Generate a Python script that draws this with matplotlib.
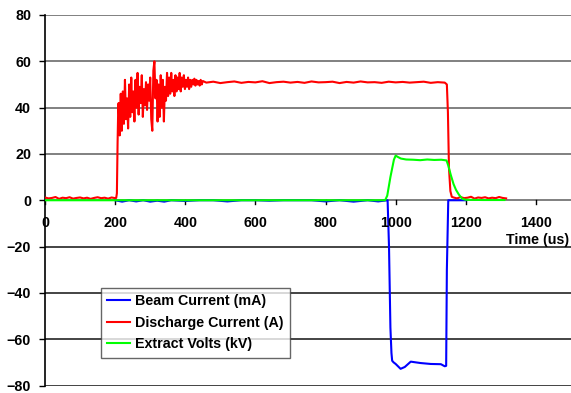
import numpy as np
import matplotlib
matplotlib.use("Agg")
import matplotlib.pyplot as plt

plt.rcParams['font.family'] = ['Liberation Sans', 'DejaVu Sans']
plt.rcParams['font.weight'] = 'bold'

# ---- data ----
# Discharge current (A)
dis_base = [1.2, 0.8, 1.0, 1.4, 0.6, 1.1, 0.9, 1.3, 0.7, 1.0, 1.2,
            0.8, 1.1, 0.6, 1.0, 1.3, 0.9, 1.1, 0.7, 1.2, 0.9]           # t = 0..200 step 10
dis_rise_t = [203, 205, 207, 209]
dis_rise = [1.0, 3.0, 25.0, 41.0]
dis_osc = [42, 28, 46, 30, 47, 33, 52, 35, 44, 31, 50, 36, 53, 38, 47, 34,
           52, 40, 55, 37, 49, 42, 54, 36, 48, 41, 51, 39, 50, 43, 53, 35,
           30, 56, 60, 44, 52, 34, 50, 36, 54, 40, 52, 34, 49, 43, 55, 45,
           53, 46, 55, 47, 52, 45, 54, 47, 53, 48, 55, 47, 53, 49, 54, 48,
           52, 49, 53, 48, 52, 49, 52, 50, 52.5, 49.5, 52, 50, 51.5, 49.5,
           52, 50, 51.5]                                                   # t = 210.. step 3
dis_flat = [50.8, 51.2, 50.6, 51.0, 51.3, 50.7, 51.1, 50.9, 51.4, 50.6,
            51.0, 51.2, 50.8, 51.1, 50.7, 51.3, 50.9, 51.0, 51.2, 50.6,
            51.1, 50.8, 51.3, 50.9, 51.0, 50.7, 51.2, 50.9, 51.1, 50.8,
            51.0, 51.2, 50.7, 51.0, 50.8]                                   # t = 460..1140 step 20
dis_fall_t = [1146, 1149, 1152, 1156, 1160]
dis_fall = [50.0, 38.0, 14.0, 4.0, 1.5]
dis_tail = [1.2, 0.8, 1.4, 0.9, 1.1, 1.5, 0.7, 1.2, 1.0, 1.3, 0.8, 1.1,
            0.9, 1.4, 1.0, 0.8]                                             # t = 1165..1315 step 10

# Extract volts (kV)
ext_t = [0, 970, 976, 985, 995, 1000, 1005, 1015, 1030, 1050, 1070, 1090,
         1110, 1130, 1145, 1150, 1157, 1165, 1172, 1180, 1190, 1200, 1250, 1310]
ext_v = [0, 0, 2, 10, 17.5, 19.3, 18.8, 18.0, 17.6, 17.5, 17.3, 17.6,
         17.4, 17.5, 17.2, 15.0, 11.0, 7.0, 4.5, 2.5, 0.6, 0.2, 0.1, 0.1]

# Beam current (mA)
beam_t = [200, 220, 240, 260, 280, 300, 320, 340, 360, 400, 440, 480, 520,
          560, 600, 640, 680, 720, 760, 800, 840, 880, 920, 950, 977, 981,
          985, 988, 990, 994, 1000, 1014, 1026, 1043, 1071, 1100, 1129,
          1140, 1144, 1146, 1150, 1200]
beam_v = [0, -0.6, 0, -0.5, 0, -0.6, -0.2, -0.6, 0, -0.3, 0, 0, -0.5,
          0, 0, -0.2, 0, 0, 0, -0.5, 0, -0.6, 0, -0.5, 0, -20,
          -55, -66, -69.3, -70, -70.7, -72.8, -72, -69.7, -70.3, -70.7, -70.8,
          -71.7, -71.5, -30, 0, 0]

labels = ['Beam Current (mA)', 'Discharge Current (A)', 'Extract Volts (kV)']

# assemble discharge series
dis_t = np.concatenate([np.arange(0, 201, 10), dis_rise_t,
                        210 + 3 * np.arange(len(dis_osc)),
                        460 + 20 * np.arange(len(dis_flat)), dis_fall_t,
                        1165 + 10 * np.arange(len(dis_tail))])
dis_v = np.concatenate([dis_base, dis_rise, dis_osc, dis_flat, dis_fall, dis_tail])

fig = plt.figure(figsize=(5.71, 3.93), dpi=100)
ax = fig.add_axes([45 / 571, (393 - 385.5) / 393, 526 / 571, (385.5 - 15) / 393])

ax.set_xlim(0, 1500)
ax.set_ylim(-80, 80)

# gridlines: grey above, dark below
for y in [20, 40, 60, 80]:
    ax.axhline(y, color='#808080', linewidth=1.4, zorder=0)
for y in [-20, -40, -60, -80]:
    ax.axhline(y, color='#111111', linewidth=1.1, zorder=0)

ax.plot(beam_t, beam_v, color='#0000ff', linewidth=1.5, label=labels[0], zorder=3)
ax.plot(dis_t, dis_v, color='#ff0000', linewidth=1.5, label=labels[1], zorder=3)
ax.plot(ext_t, ext_v, color='#00ff00', linewidth=1.5, label=labels[2], zorder=4)

for s in ['top', 'right', 'bottom']:
    ax.spines[s].set_visible(False)
ax.spines['left'].set_color('black')
ax.spines['left'].set_linewidth(1.2)
ax.axhline(0, color='#808080', linewidth=1.4, zorder=1)

ax.set_yticks(np.arange(-80, 81, 20))
ax.set_xticks(np.arange(0, 1401, 200))
ax.tick_params(axis='y', direction='out', length=4, width=1, pad=6, labelsize=10.3)
ax.tick_params(axis='x', direction='out', length=0, pad=0, labelsize=10.3)
for lab in ax.get_yticklabels():
    lab.set_fontweight('bold')
    lab.set_verticalalignment('center_baseline')

# x tick labels sit under the zero line
ax.set_xticklabels([])
for xv in np.arange(0, 1401, 200):
    ax.plot([xv, xv], [0, -1.8], color='black', linewidth=1, zorder=2, clip_on=False)
    ax.text(xv, -10, str(xv), ha='center', va='center', fontsize=10.3, fontweight='bold')
ax.text(1495, -17, 'Time (us)', ha='right', va='center', fontsize=10.3, fontweight='bold')

leg = ax.legend(loc='upper left', bbox_to_anchor=((101 - 45) / 526, 1 - (288 - 15) / 370.5),
                frameon=True, fancybox=False, fontsize=10.3, handlelength=1.6,
                handletextpad=0.3, borderpad=0.45, labelspacing=0.52, borderaxespad=0)
leg.get_frame().set_edgecolor('#404040')
leg.get_frame().set_linewidth(1.0)
for t in leg.get_texts():
    t.set_fontweight('bold')

fig.savefig('out.png', dpi=100)
